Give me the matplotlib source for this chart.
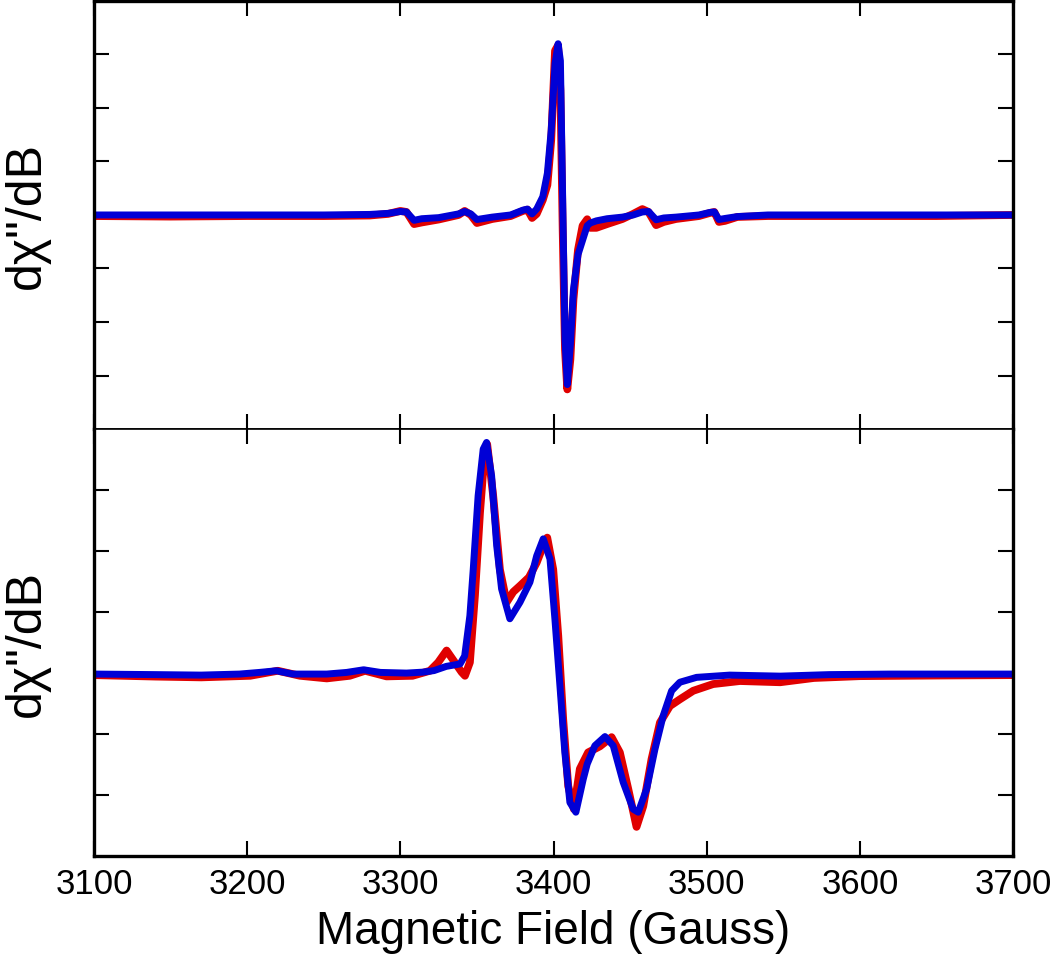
import matplotlib
matplotlib.use("Agg")
import matplotlib.pyplot as plt

plt.rcParams['font.family'] = ['Liberation Sans', 'DejaVu Sans']

# top panel: narrow line spectrum (field in Gauss, signal in arbitrary units)
top_field = [3100, 3150, 3200, 3250, 3280, 3292, 3300, 3304, 3309, 3314, 3325, 3338,
             3342, 3346, 3350, 3360, 3372, 3380, 3383, 3386, 3389, 3393, 3396, 3398.5,
             3401, 3403, 3404.5, 3406, 3407.5, 3409, 3411, 3413, 3416, 3419, 3422, 3424,
             3428, 3435, 3445, 3452, 3458, 3462, 3467, 3472, 3480, 3495, 3502, 3505,
             3508, 3512, 3520, 3540, 3600, 3650, 3700]
top_red = [-0.02, -0.03, -0.02, -0.02, -0.01, 0.02, 0.075, 0.056, -0.17, -0.14, -0.085, 0.0,
           0.075, 0.0, -0.15, -0.075, -0.02, 0.075, 0.10, -0.056, 0.02, 0.28, 0.56, 1.40,
           3.07, 3.17, 2.33, -0.28, -2.51, -3.26, -2.70, -1.58, -0.65, -0.20, -0.08, -0.24,
           -0.24, -0.17, -0.075, 0.02, 0.11, 0.056, -0.19, -0.13, -0.075, -0.02, 0.037, 0.056,
           -0.13, -0.11, -0.037, -0.02, -0.02, -0.02, 0.0]
top_blue = [0.0, 0.0, 0.0, 0.0, 0.01, 0.03, 0.065, 0.056, -0.10, -0.07, -0.05, 0.02,
            0.065, 0.02, -0.085, -0.04, 0.0, 0.09, 0.11, 0.02, 0.11, 0.34, 0.78, 1.58,
            2.83, 3.20, 2.88, 0.28, -2.33, -3.17, -2.42, -1.40, -0.74, -0.47, -0.20, -0.15,
            -0.11, -0.07, -0.04, 0.0, 0.056, 0.065, -0.09, -0.056, -0.04, 0.0, 0.047, 0.056,
            -0.085, -0.065, -0.03, 0.0, 0.0, 0.0, 0.0]

# bottom panel: broad spectrum
bot_red_field = [3100, 3140, 3170, 3202, 3220, 3234.5, 3252, 3267, 3277, 3291, 3308, 3319.3,
                 3324.7, 3330.2, 3335.6, 3340, 3342.2, 3345.4, 3348.7, 3352, 3355.2, 3356.7,
                 3360.6, 3365, 3369.4, 3373.7, 3378.1, 3384, 3389, 3393, 3395.9, 3399.8,
                 3403.1, 3406.3, 3409.6, 3413.3, 3417.2, 3422.6, 3430.3, 3437.9, 3443.3,
                 3448.8, 3454.2, 3458.6, 3464, 3469.5, 3476, 3482.5, 3491.2, 3504.2, 3521.7,
                 3548, 3570, 3600, 3650, 3700]
bot_red = [-0.033, -0.057, -0.07, -0.044, 0.038, -0.044, -0.087, -0.044, 0.038, -0.054, -0.044, 0.038,
           0.175, 0.37, 0.175, 0.016, -0.044, 0.175, 1.27, 2.63, 3.67, 3.75,
           2.91, 1.70, 1.16, 1.33, 1.43, 1.57, 1.81, 2.07, 2.22, 1.70,
           0.61, -0.75, -1.85, -2.23, -1.57, -1.30, -1.20, -1.05, -1.30,
           -1.90, -2.52, -2.18, -1.41, -0.81, -0.54, -0.43, -0.29, -0.18, -0.13,
           -0.15, -0.08, -0.05, -0.04, -0.033]

bot_blue_field = [3100, 3140, 3170, 3195, 3208, 3219, 3230, 3252, 3265, 3276, 3287, 3304,
                  3315, 3322, 3330, 3339, 3342, 3345.4, 3347.6, 3350.8, 3354.1, 3356.3,
                  3359.6, 3362.9, 3366.1, 3371.5, 3378.1, 3384.6, 3389, 3393.3, 3397.7,
                  3400.9, 3404.2, 3407.4, 3410.7, 3414.6, 3419.4, 3422, 3427, 3433.6, 3439,
                  3445.5, 3452, 3455.3, 3460.8, 3466.2, 3471.6, 3477.1, 3482.5, 3493.4,
                  3515, 3548, 3580, 3620, 3660, 3700]
bot_blue = [-0.016, -0.025, -0.033, -0.016, 0.011, 0.038, -0.016, -0.016, 0.011, 0.054, 0.011, 0.0,
            0.016, 0.041, 0.11, 0.15, 0.28, 0.94, 1.70, 2.91, 3.67, 3.78,
            3.23, 2.09, 1.38, 0.89, 1.16, 1.49, 1.92, 2.20, 1.87,
            0.89, -0.21, -1.30, -2.12, -2.28, -1.74, -1.49, -1.19, -1.04, -1.19,
            -1.79, -2.23, -2.28, -1.90, -1.25, -0.70, -0.29, -0.15, -0.07,
            -0.033, -0.05, -0.025, -0.016, -0.016, -0.016]

xticks = [3100, 3200, 3300, 3400, 3500, 3600, 3700]

fig = plt.figure(figsize=(10.5, 9.62), dpi=100)
ax1 = fig.add_axes([0.0895, 0.553, 0.8753, 0.445])
ax2 = fig.add_axes([0.0895, 0.109, 0.8753, 0.444])

line_kw = dict(solid_joinstyle='round', solid_capstyle='round')
ax1.plot(top_field, top_red, color='#e00000', lw=5.6, **line_kw)
ax1.plot(top_field, top_blue, color='#0000d6', lw=5.0, **line_kw)
ax2.plot(bot_red_field, bot_red, color='#e00000', lw=5.6, **line_kw)
ax2.plot(bot_blue_field, bot_blue, color='#0000d6', lw=5.0, **line_kw)

ax1.set_ylim(-4, 4)
ax1.set_yticks([-3, -2, -1, 0, 1, 2, 3])
ax2.set_ylim(-3, 4)
ax2.set_yticks([-2, -1, 0, 1, 2, 3])

for ax in (ax1, ax2):
    ax.set_xlim(3100, 3700)
    ax.set_xticks(xticks)
    ax.tick_params(direction='in', top=True, bottom=True, left=True, right=True,
                   length=11, width=1.5, labelleft=False)
    for s in ax.spines.values():
        s.set_linewidth(2.4)
    ax.set_ylabel('d\u03c7"/dB', fontsize=36, labelpad=32)

ax1.spines['bottom'].set_linewidth(1.2)
ax2.spines['top'].set_linewidth(1.2)
ax1.tick_params(labelbottom=False)
ax2.tick_params(axis='x', labelsize=25, pad=8)
ax2.set_xlabel('Magnetic Field (Gauss)', fontsize=33, labelpad=6)

fig.savefig('out.png', dpi=100)
